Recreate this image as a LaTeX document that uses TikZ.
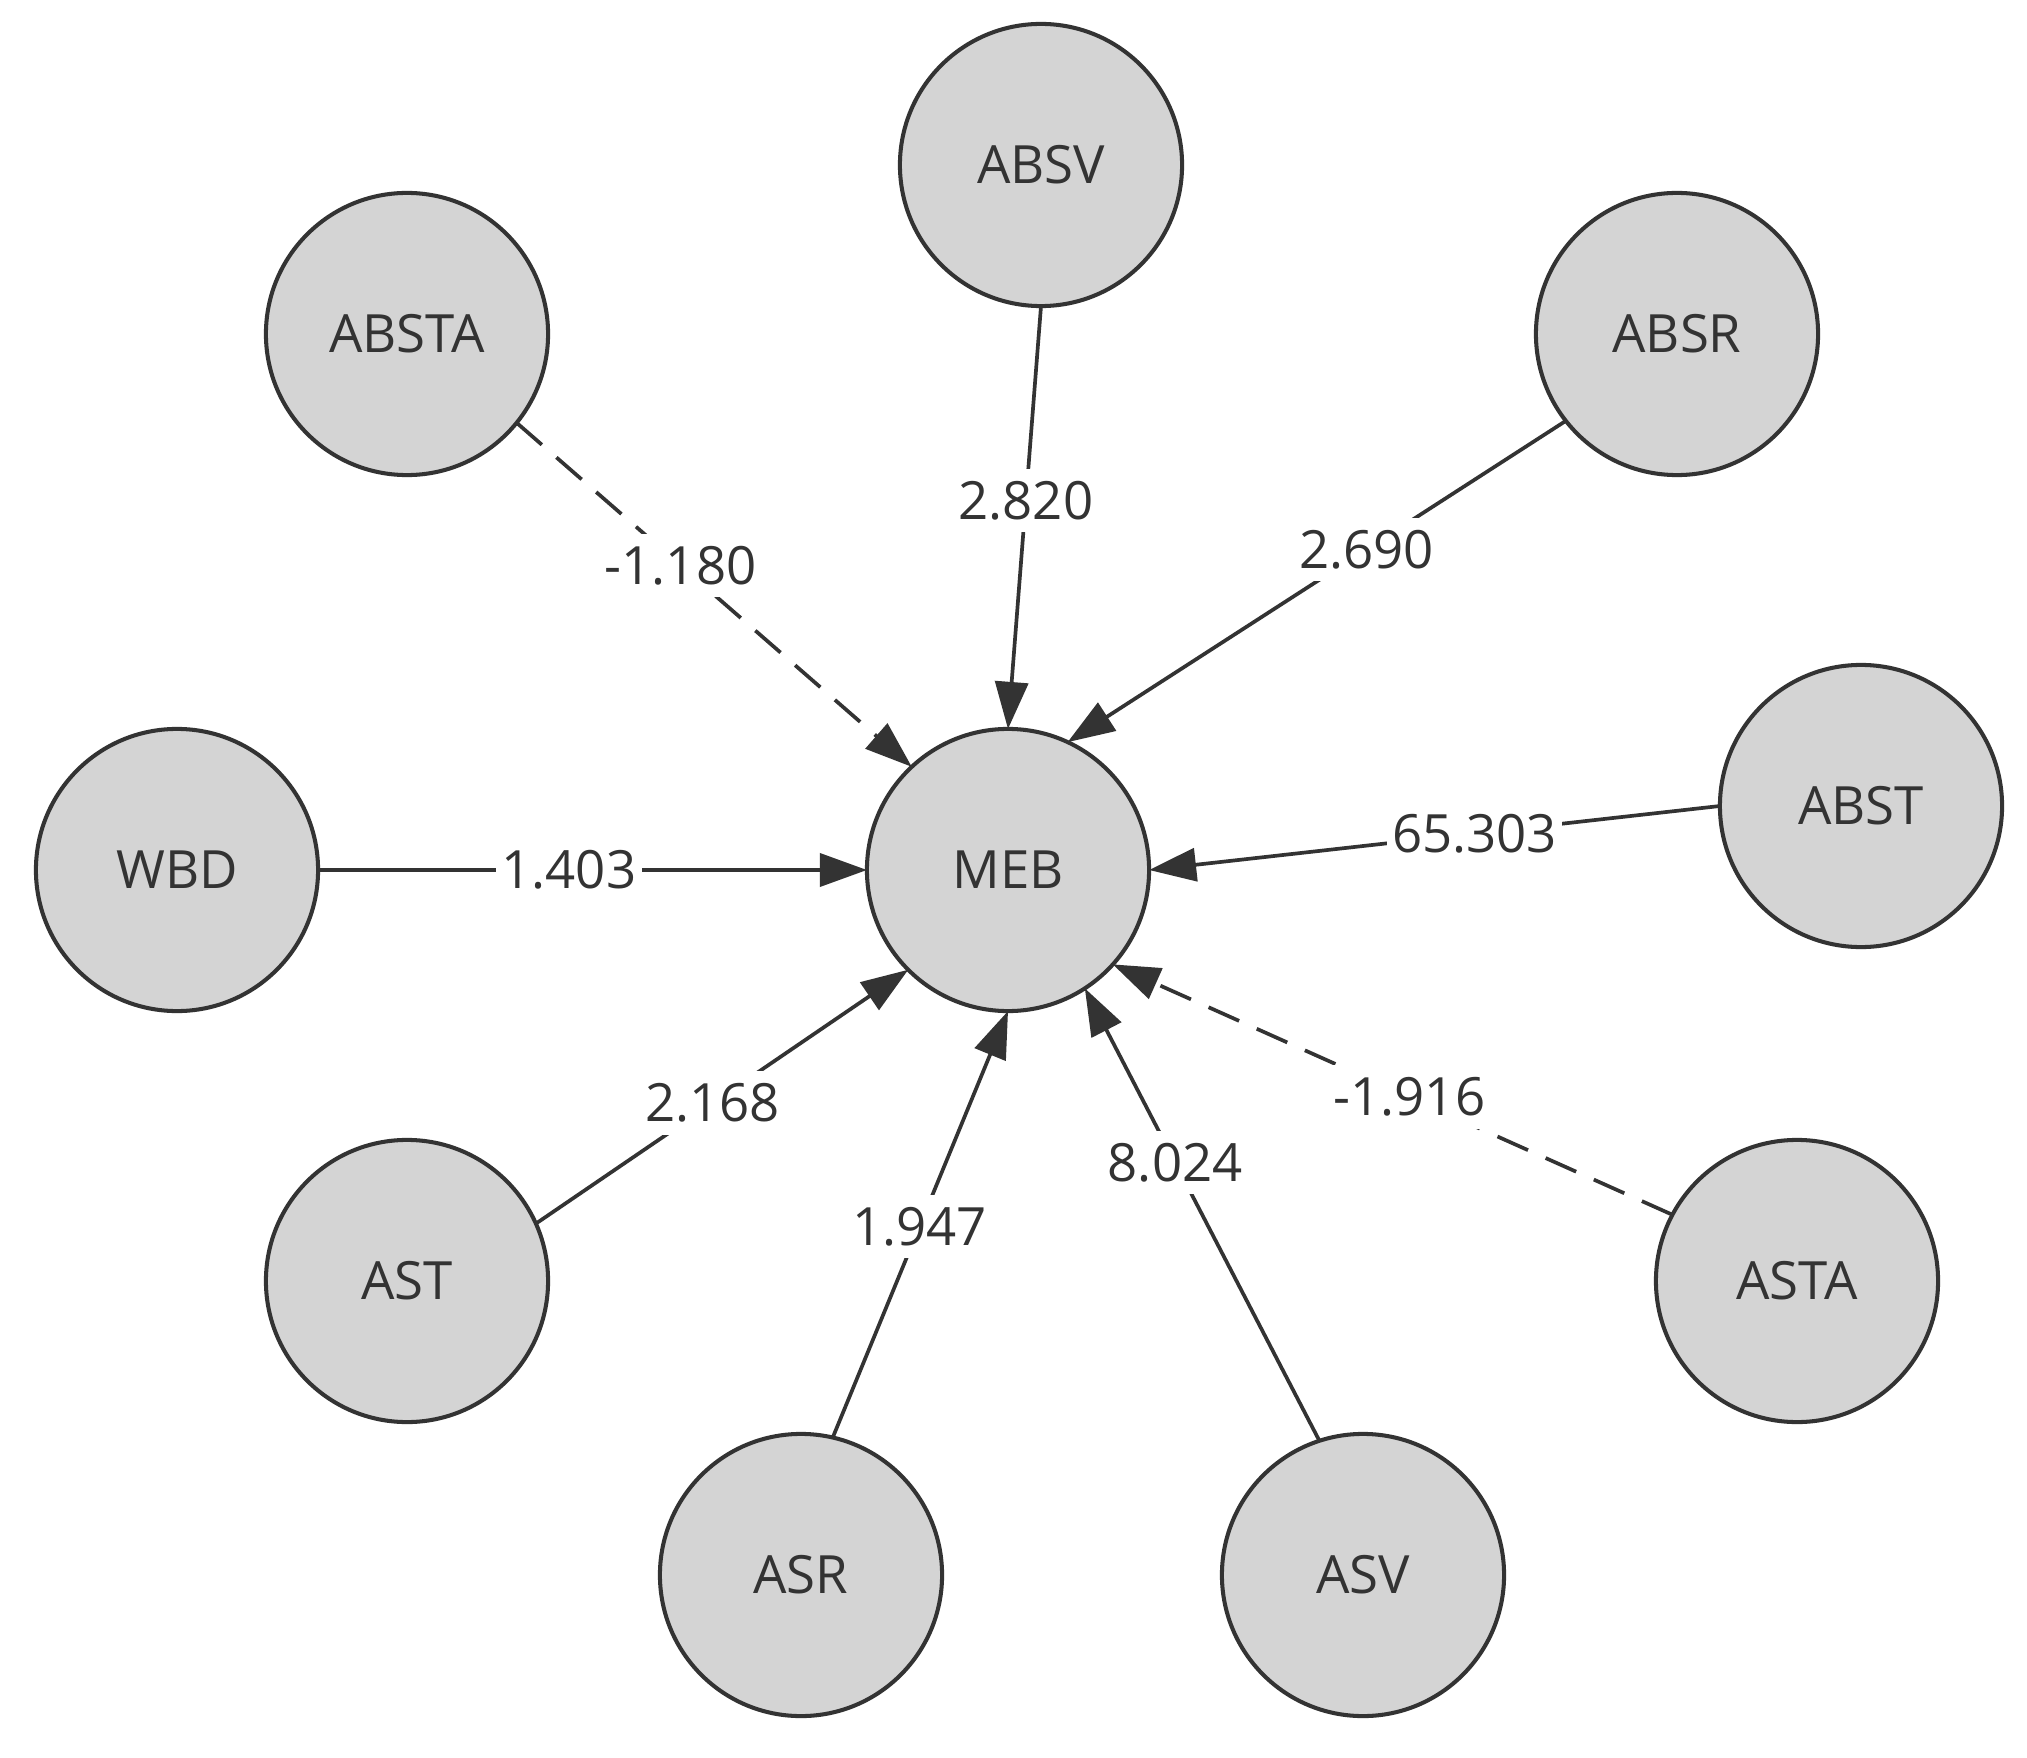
\documentclass[tikz,border=0pt]{standalone}
\usepackage{fontspec}
\setmainfont{Open Sans}
\usetikzlibrary{arrows.meta}
\definecolor{nodefill}{HTML}{D4D4D4}
\definecolor{ink}{HTML}{333333}
\begin{document}
\begin{tikzpicture}[x=0.01cm,y=-0.01cm,
  latent/.style={circle, draw=ink, line width=1.15pt, fill=nodefill, minimum size=2.82cm, inner sep=0pt, outer sep=0pt, text=ink, font=\fontsize{15}{18}\selectfont},
  path/.style={draw=ink, line width=1.05pt, -{Triangle[length=0.47cm,width=0.33cm]}},
  negpath/.style={path, dash pattern=on 9.5pt off 5.5pt},
  coef/.style={fill=white, inner xsep=1.5pt, inner ysep=3.5pt, text=ink, font=\fontsize{15}{18}\selectfont}
]
\fill[white] (0,0) rectangle (2027,1758);
\useasboundingbox (0,0) rectangle (2027,1758);

\node[latent] (MEB)   at (1008,870)  {MEB};
\node[latent] (ABSV)  at (1041,165)  {ABSV};
\node[latent] (ABSTA) at (407,334)   {ABSTA};
\node[latent] (ABSR)  at (1677,334)  {ABSR};
\node[latent] (WBD)   at (177,870)   {WBD};
\node[latent] (ABST)  at (1861,806)  {ABST};
\node[latent] (AST)   at (407,1281)  {AST};
\node[latent] (ASTA)  at (1797,1281) {ASTA};
\node[latent] (ASR)   at (801,1575)  {ASR};
\node[latent] (ASV)   at (1363,1575) {ASV};

\draw[negpath] (ABSTA.321.6) -- node[coef, pos=0.415] {-1.180} (MEB.133);
\draw[path] (ABSV.south) -- node[coef, pos=0.46] {2.820} (MEB.north);
\draw[path] (ABSR.218.4) -- node[coef, pos=0.40] {2.690} (MEB.65.5);
\draw[path] (ABST.west) -- node[coef, pos=0.43] {65.303} (MEB.east);
\draw[path] (WBD.east) -- node[coef, pos=0.457] {1.403} (MEB.west);
\draw[path] (AST.24) -- node[coef, pos=0.475] {2.168} (MEB.225);
\draw[path] (ASR.77) -- node[coef, pos=0.495] {1.947} (MEB.south);
\draw[path] (ASV.108) -- node[coef, pos=0.615] {8.024} (MEB.303);
\draw[negpath] (ASTA.152) -- node[coef, pos=0.47] {-1.916} (MEB.318.5);
\end{tikzpicture}
\end{document}
